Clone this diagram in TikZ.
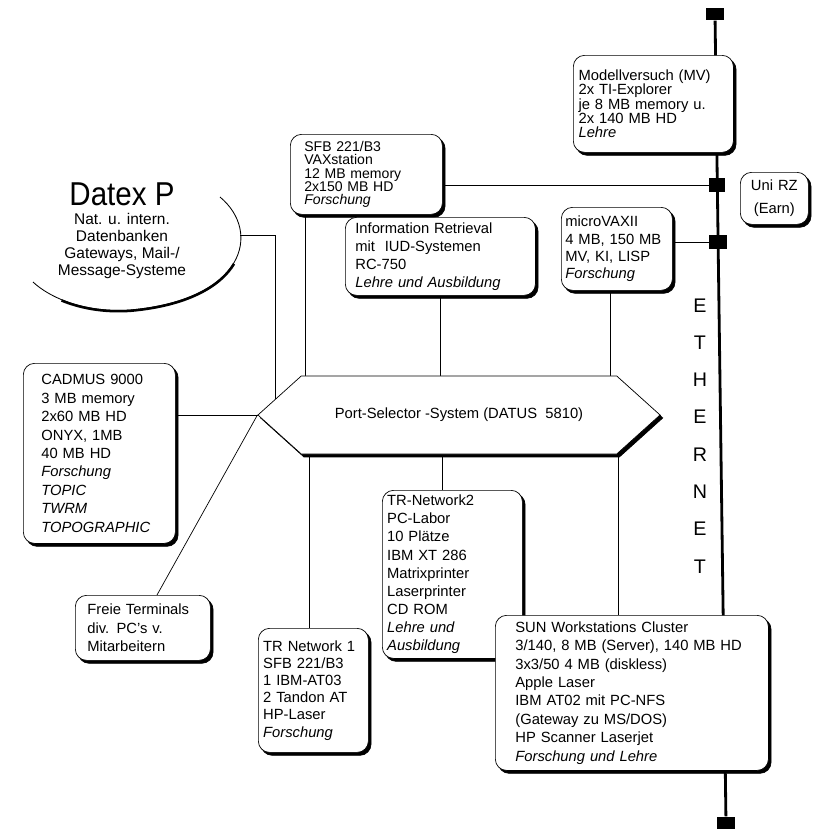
\documentclass[tikz,border=0pt]{standalone}
\usepackage{fontspec}
\setmainfont{Liberation Sans}
\usepackage{graphicx}
\usetikzlibrary{shapes.symbols,backgrounds}

\tikzset{
  shadowed/.style={preaction={fill=black, draw=black, line width=0.5pt, transform canvas={xshift=1.9pt, yshift=-2.1pt}}},
  unitbox/.style={shadowed, draw, fill=white, rounded corners=8pt, line width=0.5pt,
    anchor=north west, align=left, inner ysep=1pt,
    font=\fontsize{10.5}{13}\selectfont},
  link/.style={line width=0.5pt},
  tap/.style={fill=black, inner sep=0pt, minimum width=0.45cm, minimum height=0.32cm},
  ethletter/.style={font=\fontsize{14}{14}\selectfont, inner sep=0pt},
}

\begin{document}
\begin{tikzpicture}[x=0.025cm, y=-0.025cm]
\useasboundingbox (0,0) rectangle (816,829);

% Datex P
\draw[line width=0.6pt] (220,197) .. controls (262,232) and (245,300) .. (130,310) .. controls (85,313) and (50,298) .. (33,282);
\draw[line width=1.8pt, yshift=-0.6pt] (234,263) .. controls (220.5,285.5) and (187.5,305) .. (130,310) .. controls (103,311.8) and (79.6,307.1) .. (61.5,299.6);
\coordinate (datexend) at (240,235);
\node[inner sep=0pt] (datex) at (122,194) {\fontsize{21}{21}\selectfont\scalebox{1}[1.12]{Datex P}};
\node[align=center, inner sep=0pt, font=\fontsize{11}{11.9}\selectfont] (datexinfo) at (122,246) {Nat. u. intern.\\Datenbanken\\Gateways, Mail-/\\Message-Systeme};

% Rechner
\node[unitbox, minimum width=4cm, minimum height=2.425cm, inner xsep=0.13cm, text width=3.74cm, font=\fontsize{10.5}{10.2}\selectfont] (mv) at (573,55) {Modellversuch (MV)\\2x TI-Explorer\\je 8 MB memory u.\\2x 140 MB HD\\\textit{Lehre}};
\node[unitbox, minimum width=3.8cm, minimum height=2cm, inner xsep=0.35cm, text width=3.1cm, font=\fontsize{10}{9.4}\selectfont] (sfb) at (290,134) {SFB 221/B3\\VAXstation\\12 MB memory\\2x150 MB HD\\\textit{Forschung}};
\node[unitbox, minimum width=4.75cm, minimum height=1.95cm, inner xsep=0.25cm, text width=4.25cm, font=\fontsize{10.5}{12.8}\selectfont] (ir) at (345,217) {Information Retrieval\\mit~~IUD-Systemen\\RC-750\\\textit{Lehre und Ausbildung}};
\node[unitbox, minimum width=2.775cm, minimum height=2.075cm, inner xsep=0.1cm, text width=2.575cm, font=\fontsize{10.5}{12.3}\selectfont] (vax) at (561,207) {microVAXII\\4 MB, 150 MB\\MV, KI, LISP\\\textit{Forschung}};
\node[unitbox, align=center, minimum width=1.7cm, minimum height=1.3cm, inner xsep=0.1cm, text width=1.5cm, font=\fontsize{10.5}{16}\selectfont] (unirz) at (740,172) {Uni RZ\\(Earn)};
\node[unitbox, minimum width=3.8cm, minimum height=4.5cm, inner xsep=0.45cm, text width=2.9cm, font=\fontsize{10.5}{13.1}\selectfont] (cadmus) at (23,363) {CADMUS 9000\\3 MB memory\\2x60 MB HD\\ONYX, 1MB\\40 MB HD\\\textit{Forschung}\\\textit{TOPIC}\\\textit{TWRM}\\\textit{TOPOGRAPHIC}};
\node[unitbox, minimum width=3.375cm, minimum height=1.625cm, inner xsep=0.3cm, text width=2.775cm] (freie) at (75,595) {Freie Terminals\\div. PC's v.\\Mitarbeitern};
\node[unitbox, minimum width=2.75cm, minimum height=3.1cm, inner xsep=0.12cm, text width=2.51cm, font=\fontsize{10.5}{12.2}\selectfont] (trone) at (258,628) {TR Network 1\\SFB 221/B3\\1 IBM-AT03\\2 Tandon AT\\HP-Laser\\\textit{Forschung}};
\node[unitbox, minimum width=3.5cm, minimum height=4.2cm, inner xsep=0.12cm, text width=3.26cm, font=\fontsize{10.5}{12.9}\selectfont] (trtwo) at (382,490) {TR-Network2\\PC-Labor\\10 Plätze\\IBM XT 286\\Matrixprinter\\Laserprinter\\CD ROM\\\textit{Lehre und}\\\textit{Ausbildung}};
\node[unitbox, minimum width=6.825cm, minimum height=3.875cm, inner xsep=0.5cm, text width=5.825cm, font=\fontsize{10.5}{13.1}\selectfont] (sun) at (495,615) {SUN Workstations Cluster\\3/140, 8 MB (Server), 140 MB HD\\3x3/50 4 MB (diskless)\\Apple Laser\\IBM AT02 mit PC-NFS\\(Gateway zu MS/DOS)\\HP Scanner Laserjet\\\textit{Forschung und Lehre}};

% Port-Selector
\node[signal, signal to=west and east, signal pointer angle=84, shadowed, draw, fill=white, line width=0.5pt,
  minimum width=10.05cm, minimum height=1.95cm, inner sep=0pt,
  font=\fontsize{10.5}{12}\selectfont] (port) at (459,415) {Port-Selector -System (DATUS~~5810)};

% Ethernet
\node[tap] (ethtop) at (715,14) {};
\node[tap] (ethbot) at (726,823) {};
\node[tap, minimum width=0.4cm, minimum height=0.35cm] (tapsfb) at (717,185) {};
\node[tap, minimum height=0.35cm] (tapvax) at (718,242) {};
\foreach \l [count=\i] in {E,T,H,E,R,N,E,T}
  \node[ethletter] (eth\i) at (700,268+37.3*\i) {\l};

\begin{scope}[on background layer]
  \draw[line width=2pt] (ethtop) -- (ethbot);
  \draw[link] (tapsfb) -- (tapsfb -| sfb);
  \draw[link] (tapvax) -- (tapvax -| vax);
  \draw[link] (datexend) -- ++(35,0) |- (port);
  \draw[link] (sfb.south west) ++(15,0) |- (port);
  \draw[link] (ir) -- (ir |- port);
  \draw[link] (vax.south west) ++(49,0) |- (port);
  \draw[link] (trtwo.north west) ++(60,0) |- (port);
  \draw[link] (trone.north west) ++(51,0) |- (port);
  \draw[link] (sun.north west) ++(123,0) |- (port);
  \draw[link] (cadmus.east |- port.west) -- (port.west);
  \draw[link] (freie.north west) ++(82,0) -- (port.west);
\end{scope}
\end{tikzpicture}
\end{document}
